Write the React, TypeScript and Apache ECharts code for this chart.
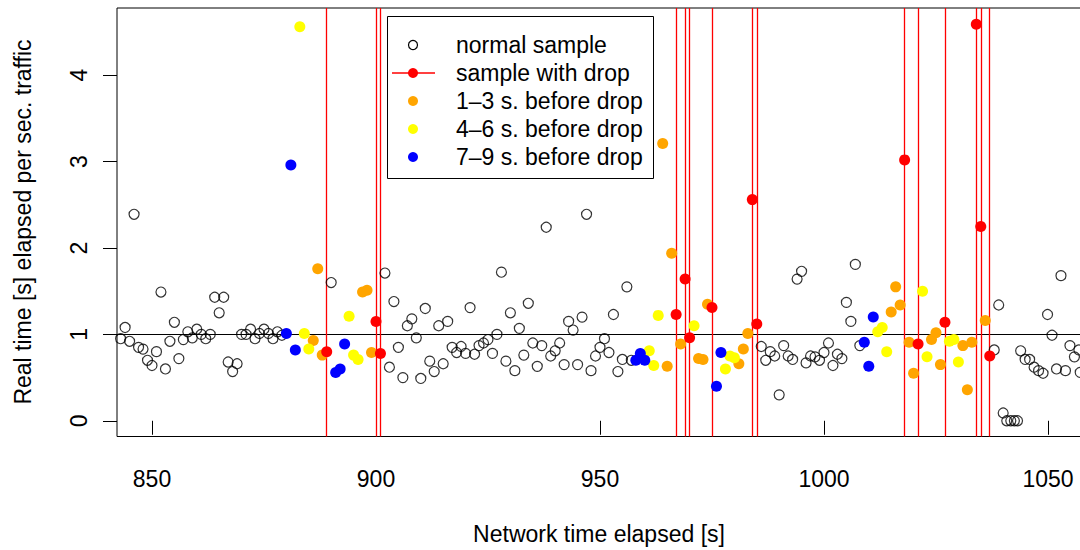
import React, { useEffect, useRef } from "react";
import * as echarts from "echarts";

// ---- data ----
const normalSamples: number[][] = [
  [842, 1.04], [843, 0.95], [844, 1.08], [845, 0.92], [846, 2.39], [847, 0.85], [848, 0.83], [849, 0.70],
  [850, 0.64], [851, 0.80], [852, 1.49], [853, 0.60], [854, 0.92], [855, 1.14], [856, 0.72], [857, 0.94],
  [858, 1.03], [859, 0.96], [860, 1.06], [861, 1.00], [862, 0.95], [863, 1.00], [864, 1.43], [865, 1.25],
  [866, 1.43], [867, 0.68], [868, 0.57], [869, 0.66], [870, 1.00], [871, 1.00], [872, 1.06], [873, 0.95],
  [874, 1.01], [875, 1.06], [876, 1.01], [877, 0.95], [878, 1.03], [879, 0.99],
  [890, 1.60],
  [902, 1.71], [903, 0.62], [904, 1.38], [905, 0.85], [906, 0.50], [907, 1.10], [908, 1.18], [909, 0.96],
  [910, 0.49], [911, 1.30], [912, 0.69], [913, 0.57], [914, 1.10], [915, 0.66], [916, 1.15], [917, 0.85],
  [918, 0.79], [919, 0.86], [920, 0.78], [921, 1.31], [922, 0.77], [923, 0.87], [924, 0.90], [925, 0.94],
  [926, 0.78], [927, 1.00], [928, 1.72], [929, 0.69], [930, 1.25], [931, 0.58], [932, 1.07], [933, 0.76],
  [934, 1.36], [935, 0.90], [936, 0.63], [937, 0.87], [938, 2.24], [939, 0.75], [940, 0.81], [941, 0.90],
  [942, 0.65], [943, 1.15], [944, 1.05], [945, 0.65], [946, 1.20], [947, 2.39], [948, 0.58], [949, 0.75],
  [950, 0.85], [951, 0.95], [952, 0.79], [953, 1.23], [954, 0.57], [955, 0.71], [956, 1.55], [957, 0.70],
  [986, 0.86], [987, 0.70], [988, 0.80], [989, 0.75], [990, 0.30], [991, 0.87], [992, 0.75], [993, 0.71],
  [994, 1.64], [995, 1.73], [996, 0.67], [997, 0.75], [998, 0.74], [999, 0.70], [1000, 0.79], [1001, 0.90],
  [1002, 0.64], [1003, 0.77], [1004, 0.72], [1005, 1.37], [1006, 1.15], [1007, 1.81], [1008, 0.87],
  [1038, 0.82], [1039, 1.34], [1040, 0.09], [1040.8, 0.0], [1041.7, 0.0], [1042.5, 0.0], [1043.2, 0.0],
  [1043.9, 0.81], [1044.9, 0.71], [1045.9, 0.71], [1046.9, 0.62], [1047.9, 0.58], [1048.9, 0.55],
  [1049.9, 1.23], [1050.9, 0.99], [1051.9, 0.60], [1052.9, 1.68], [1053.9, 0.58], [1054.9, 0.87],
  [1055.9, 0.74], [1056.9, 0.82], [1057.2, 0.56],
];

const dropSamples: number[][] = [
  [889, 0.80], [900, 1.15], [901, 0.78], [967, 1.23], [969, 1.64], [970, 0.96], [975, 1.31], [984, 2.56],
  [985, 1.12], [1018, 3.02], [1021, 0.89], [1027, 1.14], [1034, 4.59], [1035, 2.25], [1037, 0.75],
];

const before1to3: number[][] = [
  [886, 0.93], [887, 1.76], [888, 0.76], [897, 1.49], [898, 1.51], [899, 0.79], [964, 3.21], [965, 0.63],
  [966, 1.94], [968, 0.89], [972, 0.72], [973, 0.71], [974, 1.35], [981, 0.66], [982, 0.83], [983, 1.01],
  [1015, 1.26], [1016, 1.55], [1017, 1.34], [1019, 0.91], [1020, 0.55], [1024, 0.94], [1025, 1.02],
  [1026, 0.65], [1031, 0.87], [1032, 0.36], [1033, 0.91], [1036, 1.16],
];

const before4to6: number[][] = [
  [883, 4.56], [884, 1.01], [885, 0.83], [894, 1.21], [895, 0.76], [896, 0.71], [961, 0.81], [962, 0.64],
  [963, 1.22], [971, 1.10], [978, 0.60], [979, 0.75], [980, 0.73], [1012, 1.03], [1013, 1.08], [1014, 0.80],
  [1022, 1.50], [1023, 0.74], [1028, 0.92], [1029, 0.94], [1030, 0.68],
];

const before7to9: number[][] = [
  [880, 1.01], [881, 2.96], [882, 0.82], [891, 0.56], [892, 0.60], [893, 0.89], [958, 0.70], [959, 0.78],
  [960, 0.70], [976, 0.40], [977, 0.79], [1009, 0.91], [1010, 0.63], [1011, 1.20],
];

const xTicks = [850, 900, 950, 1000, 1050];
const yTicks = [0, 1, 2, 3, 4];
const referenceLevel = 1;

const legendLabels = [
  "normal sample",
  "sample with drop",
  "1\u20133 s. before drop",
  "4\u20136 s. before drop",
  "7\u20139 s. before drop",
];
const xTitle = "Network time elapsed [s]";
const yTitle = "Real time [s] elapsed per sec. traffic";

const FONT = "'Liberation Sans', Arial, Helvetica, sans-serif";
const FS = 23;
const C_RED = "#ff0000";
const C_ORANGE = "#ffa500";
const C_YELLOW = "#ffff00";
const C_BLUE = "#0000ff";

export default function App() {
  const ref = useRef<HTMLDivElement>(null);

  useEffect(() => {
    if (!ref.current) return;
    const chart = echarts.init(ref.current, null, { renderer: "svg" });

    const filled = (name: string, data: number[][], color: string) => ({
      name,
      type: "scatter",
      data,
      symbol: "circle",
      symbolSize: 11,
      z: 4,
      itemStyle: { color, borderColor: color, borderWidth: 0, opacity: 1 },
      emphasis: { disabled: true },
    });

    const legendY = [45, 73, 101, 129, 157];
    const legendColors = ["none", C_RED, C_ORANGE, C_YELLOW, C_BLUE];
    const legendGraphics: any[] = [
      {
        type: "rect",
        shape: { x: 387.5, y: 16.5, width: 266, height: 162 },
        style: { fill: "#fff", stroke: "#000", lineWidth: 1 },
        z: 100,
      },
      {
        type: "line",
        shape: { x1: 392, y1: legendY[1], x2: 435, y2: legendY[1] },
        style: { stroke: C_RED, lineWidth: 1.3 },
        z: 101,
      },
    ];
    legendLabels.forEach((label, i) => {
      legendGraphics.push({
        type: "circle",
        shape: { cx: 413, cy: legendY[i], r: i === 0 ? 4.5 : 5 },
        style:
          i === 0
            ? { fill: "none", stroke: "#000", lineWidth: 1.2 }
            : { fill: legendColors[i], stroke: "none" },
        z: 102,
      });
      legendGraphics.push({
        type: "text",
        x: 456,
        y: legendY[i],
        style: {
          text: label,
          font: `${FS}px ${FONT}`,
          fill: "#000",
          textAlign: "left",
          textVerticalAlign: "middle",
        },
        z: 102,
      });
    });

    const option: any = {
      animation: false,
      backgroundColor: "#fff",
      grid: {
        left: 117,
        top: 8,
        right: 19,
        bottom: 113.5,
        show: true,
        borderColor: "#000",
        borderWidth: 1,
        backgroundColor: "transparent",
      },
      xAxis: {
        type: "value",
        min: 842.19,
        max: 1057.37,
        axisLine: { show: false },
        splitLine: { show: false },
        axisTick: {
          show: true,
          length: 14,
          inside: false,
          customValues: xTicks,
          lineStyle: { color: "#000", width: 1 },
        },
        axisLabel: {
          customValues: xTicks,
          formatter: (v: number) => String(v),
          color: "#000",
          fontSize: FS,
          fontFamily: FONT,
          margin: 31,
        },
      },
      yAxis: {
        type: "value",
        min: -0.182,
        max: 4.778,
        axisLine: { show: false },
        splitLine: { show: false },
        axisTick: {
          show: true,
          length: 14,
          inside: false,
          customValues: yTicks,
          lineStyle: { color: "#000", width: 1 },
        },
        axisLabel: {
          customValues: yTicks,
          formatter: (v: number) => String(v),
          color: "#000",
          fontSize: FS,
          fontFamily: FONT,
          rotate: 90,
          margin: 27,
        },
      },
      graphic: [
        {
          type: "text",
          x: 599,
          y: 534,
          style: {
            text: xTitle,
            font: `${FS}px ${FONT}`,
            fill: "#000",
            textAlign: "center",
            textVerticalAlign: "middle",
          },
        },
        {
          type: "text",
          x: 23,
          y: 222,
          rotation: Math.PI / 2,
          style: {
            text: yTitle,
            font: `${FS}px ${FONT}`,
            fill: "#000",
            textAlign: "center",
            textVerticalAlign: "middle",
          },
        },
        ...legendGraphics,
      ],
      series: [
        {
          name: legendLabels[0],
          type: "scatter",
          data: normalSamples,
          symbol: "circle",
          symbolSize: 10,
          z: 3,
          itemStyle: { color: "rgba(0,0,0,0)", borderColor: "#000", borderWidth: 1.2 },
          emphasis: { disabled: true },
          markLine: {
            silent: true,
            symbol: "none",
            label: { show: false },
            lineStyle: { color: "#000", width: 1, type: "solid" },
            data: [{ yAxis: referenceLevel }],
            z: 1,
          },
        },
        {
          ...filled(legendLabels[1], dropSamples, C_RED),
          z: 5,
          markLine: {
            silent: true,
            symbol: "none",
            label: { show: false },
            lineStyle: { color: C_RED, width: 1.3, type: "solid" },
            data: dropSamples.map((d) => ({ xAxis: d[0] })),
            z: 1,
          },
        },
        filled(legendLabels[2], before1to3, C_ORANGE),
        filled(legendLabels[3], before4to6, C_YELLOW),
        filled(legendLabels[4], before7to9, C_BLUE),
      ],
    };

    chart.setOption(option);
    return () => chart.dispose();
  }, []);

  return (
    <div
      style={{
        position: "fixed",
        left: 0,
        top: 0,
        width: 1080,
        height: 550,
        overflow: "hidden",
        background: "#fff",
      }}
    >
      <div ref={ref} style={{ width: 1100, height: 550 }} />
    </div>
  );
}
